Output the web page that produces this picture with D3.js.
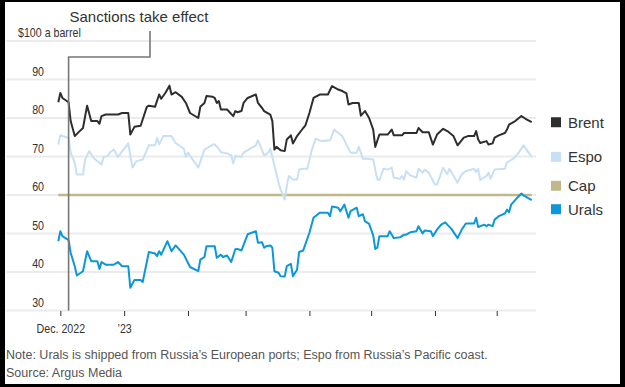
<!DOCTYPE html>
<html>
<head>
<meta charset="utf-8">
<script src="https://cdn.jsdelivr.net/npm/d3@7"></script>
<style>
  body { margin: 0; background: #000; }
  svg { display: block; }
  .sans { font-family: "Liberation Sans", Arial, sans-serif; }
</style>
</head>
<body>
<svg id="chart" width="625" height="387"></svg>
<script>
// Russian crude vs. Brent, Nov 2022 - Jul 2023 ($ a barrel)
const brent = [
  ["2022-11-30", 84.1], ["2022-12-01", 86.5], ["2022-12-02", 85.2], ["2022-12-05", 84.1],
  ["2022-12-06", 79.2], ["2022-12-08", 75.3], ["2022-12-10", 76.4], ["2022-12-12", 77.4],
  ["2022-12-14", 83.2], ["2022-12-16", 79.2], ["2022-12-19", 79.2], ["2022-12-20", 78.5],
  ["2022-12-21", 80.5], ["2022-12-23", 80.9], ["2022-12-29", 80.9], ["2022-12-31", 81.3],
  ["2023-01-03", 81.3], ["2023-01-04", 75.7], ["2023-01-06", 77.7], ["2023-01-09", 78.0],
  ["2023-01-10", 79.6], ["2023-01-12", 82.9], ["2023-01-13", 83.2], ["2023-01-16", 82.9],
  ["2023-01-18", 86.1], ["2023-01-19", 85.0], ["2023-01-21", 86.5], ["2023-01-23", 88.4],
  ["2023-01-24", 86.1], ["2023-01-26", 86.7], ["2023-01-29", 85.5], ["2023-01-31", 83.9],
  ["2023-02-02", 81.3], ["2023-02-06", 80.0], ["2023-02-07", 82.9], ["2023-02-09", 83.9],
  ["2023-02-10", 85.7], ["2023-02-13", 85.5], ["2023-02-14", 85.2], ["2023-02-15", 83.9],
  ["2023-02-16", 84.4], ["2023-02-17", 82.2], ["2023-02-20", 82.2], ["2023-02-23", 80.5],
  ["2023-02-24", 81.8], ["2023-02-25", 81.5], ["2023-02-27", 81.8], ["2023-02-28", 83.9],
  ["2023-03-02", 85.2], ["2023-03-06", 86.1], ["2023-03-07", 83.9], ["2023-03-09", 82.6],
  ["2023-03-10", 81.8], ["2023-03-13", 80.9], ["2023-03-14", 79.2], ["2023-03-15", 71.8],
  ["2023-03-16", 72.5], ["2023-03-18", 71.6], ["2023-03-20", 71.4], ["2023-03-21", 74.4],
  ["2023-03-23", 75.5], ["2023-03-24", 73.4], ["2023-03-26", 75.3], ["2023-03-29", 77.4],
  ["2023-03-30", 78.0], ["2023-04-01", 81.3], ["2023-04-03", 85.2], ["2023-04-06", 86.1],
  ["2023-04-10", 86.1], ["2023-04-12", 88.3], ["2023-04-15", 87.4], ["2023-04-17", 87.0],
  ["2023-04-19", 86.4], ["2023-04-20", 83.5], ["2023-04-22", 83.9], ["2023-04-25", 83.9],
  ["2023-04-26", 80.6], ["2023-04-28", 81.8], ["2023-04-30", 80.0], ["2023-05-02", 77.0],
  ["2023-05-03", 72.5], ["2023-05-05", 75.7], ["2023-05-09", 75.7], ["2023-05-11", 77.0],
  ["2023-05-12", 75.5], ["2023-05-16", 75.5], ["2023-05-17", 76.1], ["2023-05-23", 76.1],
  ["2023-05-24", 77.4], ["2023-05-26", 76.3], ["2023-05-29", 76.3], ["2023-05-31", 73.1],
  ["2023-06-02", 75.7], ["2023-06-05", 77.2], ["2023-06-07", 76.6], ["2023-06-10", 75.3],
  ["2023-06-12", 72.9], ["2023-06-15", 74.9], ["2023-06-17", 75.3], ["2023-06-20", 75.3],
  ["2023-06-21", 76.6], ["2023-06-22", 74.4], ["2023-06-23", 73.5], ["2023-06-26", 74.0],
  ["2023-06-27", 73.1], ["2023-06-29", 73.4], ["2023-06-30", 74.9], ["2023-07-02", 75.5],
  ["2023-07-05", 76.1], ["2023-07-06", 77.0], ["2023-07-07", 78.3], ["2023-07-10", 79.2],
  ["2023-07-13", 80.5], ["2023-07-15", 79.8], ["2023-07-18", 78.9]
];

const espo = [
  ["2022-11-30", 73.1], ["2022-12-01", 75.5], ["2022-12-05", 74.8], ["2022-12-06", 71.0],
  ["2022-12-08", 68.4], ["2022-12-09", 65.3], ["2022-12-12", 65.3], ["2022-12-13", 69.2],
  ["2022-12-15", 71.4], ["2022-12-17", 69.7], ["2022-12-21", 67.9], ["2022-12-22", 69.9],
  ["2022-12-24", 70.1], ["2022-12-25", 71.0], ["2022-12-27", 71.8], ["2022-12-29", 69.9],
  ["2023-01-03", 73.4], ["2023-01-05", 67.1], ["2023-01-07", 68.8], ["2023-01-10", 69.2],
  ["2023-01-13", 72.9], ["2023-01-16", 72.9], ["2023-01-17", 74.8], ["2023-01-18", 73.1],
  ["2023-01-20", 75.3], ["2023-01-24", 75.3], ["2023-01-26", 73.5], ["2023-01-30", 72.0],
  ["2023-01-31", 69.9], ["2023-02-01", 71.0], ["2023-02-06", 67.1], ["2023-02-09", 71.8],
  ["2023-02-13", 73.1], ["2023-02-14", 73.1], ["2023-02-16", 72.0], ["2023-02-17", 71.1],
  ["2023-02-20", 70.8], ["2023-02-22", 70.3], ["2023-02-23", 68.2], ["2023-02-24", 70.1],
  ["2023-02-27", 69.9], ["2023-02-28", 71.0], ["2023-03-03", 72.0], ["2023-03-06", 72.9],
  ["2023-03-07", 74.2], ["2023-03-09", 71.6], ["2023-03-10", 70.3], ["2023-03-12", 71.0],
  ["2023-03-13", 72.0], ["2023-03-14", 69.9], ["2023-03-17", 63.2], ["2023-03-18", 61.4],
  ["2023-03-20", 58.8], ["2023-03-21", 62.3], ["2023-03-22", 64.9], ["2023-03-24", 64.0],
  ["2023-03-26", 64.0], ["2023-03-27", 66.6], ["2023-03-29", 66.8], ["2023-03-31", 66.8],
  ["2023-04-02", 71.4], ["2023-04-04", 74.6], ["2023-04-07", 74.0], ["2023-04-11", 74.2],
  ["2023-04-13", 77.0], ["2023-04-15", 76.1], ["2023-04-17", 75.3], ["2023-04-19", 73.1],
  ["2023-04-21", 71.0], ["2023-04-24", 71.0], ["2023-04-25", 72.5], ["2023-04-27", 69.4],
  ["2023-04-29", 69.4], ["2023-05-02", 69.2], ["2023-05-04", 64.0], ["2023-05-05", 63.9],
  ["2023-05-07", 66.8], ["2023-05-09", 66.6], ["2023-05-11", 67.1], ["2023-05-12", 64.5],
  ["2023-05-15", 64.2], ["2023-05-16", 64.9], ["2023-05-17", 64.0], ["2023-05-18", 66.2],
  ["2023-05-20", 65.1], ["2023-05-23", 64.5], ["2023-05-24", 66.8], ["2023-05-26", 65.8],
  ["2023-05-27", 66.6], ["2023-05-29", 65.8], ["2023-06-01", 62.7], ["2023-06-02", 62.7],
  ["2023-06-05", 67.1], ["2023-06-07", 65.4], ["2023-06-08", 66.8], ["2023-06-12", 63.2],
  ["2023-06-14", 65.4], ["2023-06-16", 66.2], ["2023-06-18", 66.5], ["2023-06-20", 66.8],
  ["2023-06-21", 66.0], ["2023-06-22", 66.8], ["2023-06-23", 63.9], ["2023-06-26", 64.9],
  ["2023-06-27", 65.8], ["2023-06-28", 64.2], ["2023-06-30", 66.6], ["2023-07-05", 66.8],
  ["2023-07-06", 68.5], ["2023-07-09", 69.4], ["2023-07-11", 70.5], ["2023-07-14", 72.9],
  ["2023-07-18", 69.9]
];

const urals = [
  ["2022-11-30", 48.0], ["2022-12-01", 50.6], ["2022-12-02", 49.3], ["2022-12-05", 48.3],
  ["2022-12-06", 45.0], ["2022-12-08", 41.5], ["2022-12-09", 39.1], ["2022-12-12", 40.2],
  ["2022-12-14", 45.4], ["2022-12-16", 42.8], ["2022-12-19", 42.8], ["2022-12-20", 40.8],
  ["2022-12-21", 42.6], ["2022-12-23", 41.9], ["2022-12-27", 41.9], ["2022-12-29", 42.6],
  ["2022-12-31", 41.5], ["2023-01-03", 41.5], ["2023-01-04", 35.9], ["2023-01-06", 37.9],
  ["2023-01-09", 37.9], ["2023-01-10", 37.4], ["2023-01-13", 45.2], ["2023-01-16", 44.8],
  ["2023-01-17", 44.1], ["2023-01-18", 45.4], ["2023-01-19", 44.5], ["2023-01-22", 48.0],
  ["2023-01-24", 45.4], ["2023-01-26", 46.9], ["2023-01-30", 44.5], ["2023-02-02", 41.3],
  ["2023-02-06", 40.2], ["2023-02-07", 43.2], ["2023-02-09", 43.9], ["2023-02-10", 46.7],
  ["2023-02-14", 46.7], ["2023-02-15", 43.7], ["2023-02-17", 44.5], ["2023-02-18", 43.9],
  ["2023-02-20", 44.3], ["2023-02-22", 42.6], ["2023-02-24", 45.9], ["2023-02-25", 46.0],
  ["2023-02-27", 45.6], ["2023-03-02", 49.8], ["2023-03-06", 50.6], ["2023-03-07", 47.6],
  ["2023-03-09", 47.7], ["2023-03-10", 46.3], ["2023-03-11", 46.7], ["2023-03-13", 46.9],
  ["2023-03-14", 46.3], ["2023-03-15", 40.2], ["2023-03-17", 39.8], ["2023-03-18", 38.9],
  ["2023-03-20", 38.8], ["2023-03-21", 41.5], ["2023-03-23", 42.1], ["2023-03-24", 38.9],
  ["2023-03-26", 40.6], ["2023-03-27", 45.2], ["2023-03-29", 45.6], ["2023-04-01", 50.2],
  ["2023-04-03", 54.1], ["2023-04-06", 55.4], ["2023-04-10", 55.4], ["2023-04-11", 54.5],
  ["2023-04-12", 57.0], ["2023-04-15", 56.7], ["2023-04-16", 55.8], ["2023-04-18", 57.5],
  ["2023-04-20", 54.1], ["2023-04-21", 55.8], ["2023-04-24", 56.7], ["2023-04-25", 54.5],
  ["2023-04-27", 55.0], ["2023-04-28", 53.2], ["2023-04-30", 52.5], ["2023-05-02", 49.5],
  ["2023-05-03", 46.0], ["2023-05-04", 46.3], ["2023-05-05", 49.3], ["2023-05-09", 49.3],
  ["2023-05-10", 50.6], ["2023-05-12", 48.8], ["2023-05-15", 49.0], ["2023-05-17", 49.7],
  ["2023-05-18", 49.7], ["2023-05-20", 50.3], ["2023-05-23", 50.6], ["2023-05-24", 51.9],
  ["2023-05-26", 50.0], ["2023-05-27", 50.8], ["2023-05-30", 50.6], ["2023-05-31", 49.3],
  ["2023-06-02", 51.0], ["2023-06-04", 52.3], ["2023-06-06", 52.9], ["2023-06-07", 52.3],
  ["2023-06-09", 51.2], ["2023-06-12", 48.8], ["2023-06-14", 51.0], ["2023-06-16", 52.6],
  ["2023-06-20", 52.6], ["2023-06-21", 54.1], ["2023-06-22", 51.7], ["2023-06-25", 52.3],
  ["2023-06-26", 51.9], ["2023-06-27", 52.3], ["2023-06-29", 51.9], ["2023-06-30", 53.6],
  ["2023-07-02", 54.5], ["2023-07-05", 55.2], ["2023-07-06", 56.2], ["2023-07-07", 55.5],
  ["2023-07-08", 57.5], ["2023-07-09", 58.1], ["2023-07-11", 59.3], ["2023-07-13", 60.4],
  ["2023-07-14", 59.9], ["2023-07-18", 58.7]
];

const cap = [["2022-11-30", 60], ["2023-07-18", 60]];

const seriesNames = ["Cap", "Espo", "Brent", "Urals"];
const legendOrder = ["Brent", "Espo", "Cap", "Urals"];
const yTicks = [30, 40, 50, 60, 70, 80, 90, 100];
const yTickLabels = ["30", "40", "50", "60", "70", "80", "90", "$100 a barrel"];
const xTickLabels = ["Dec. 2022", "\u201923", "", "", "", "", "", ""];
const sanctionsDate = "2022-12-05";
const annotationText = "Sanctions take effect";
const noteText = "Note: Urals is shipped from Russia\u2019s European ports; Espo from Russia\u2019s Pacific coast.";
const sourceText = "Source: Argus Media";

// styles
const colors = { Brent: "#2e2e2e", Espo: "#c8e0f4", Cap: "#c0b88a", Urals: "#0b97d9" };
const widths = { Brent: 2, Espo: 2, Cap: 2.5, Urals: 2 };
const squeeze = 0.82; // no narrow face installed, so tick text is squeezed

const parse = d3.timeParse("%Y-%m-%d");
const seriesData = {
  Brent: brent.map(d => ({ date: parse(d[0]), value: d[1] })),
  Espo: espo.map(d => ({ date: parse(d[0]), value: d[1] })),
  Cap: cap.map(d => ({ date: parse(d[0]), value: d[1] })),
  Urals: urals.map(d => ({ date: parse(d[0]), value: d[1] }))
};

const W = 625, H = 387;
const svg = d3.select("#chart");

// black frame around a white card
svg.append("rect").attr("width", W).attr("height", H).attr("fill", "#000");
svg.append("rect").attr("x", 5).attr("y", 2).attr("width", W - 10).attr("height", H - 5).attr("fill", "#fff");

const allDates = brent.map(d => parse(d[0]));
const x = d3.scaleTime()
  .domain(d3.extent(allDates))
  .range([58.3, 531.7]);

const y = d3.scaleLinear()
  .domain([30, 100])
  .range([310.5, 41]);

const gridLeft = 6, gridRight = 536;

// gridlines
svg.append("g")
  .selectAll("line")
  .data(yTicks)
  .join("line")
  .attr("x1", gridLeft)
  .attr("x2", gridRight)
  .attr("y1", d => y(d))
  .attr("y2", d => y(d))
  .attr("stroke", "#ebebeb")
  .attr("stroke-width", 2);

// y labels sit just above their gridline
svg.append("g")
  .selectAll("g")
  .data(yTicks)
  .join("g")
  .attr("transform", (d, i) => `translate(${i === yTicks.length - 1 ? 18 : 44},${y(d) - 4}) scale(${squeeze},1)`)
  .append("text")
  .attr("class", "sans")
  .attr("text-anchor", (d, i) => i === yTicks.length - 1 ? "start" : "end")
  .attr("font-size", 13)
  .attr("fill", "#333")
  .text((d, i) => yTickLabels[i]);

// x axis: month ticks
const xAxis = d3.axisBottom(x)
  .ticks(d3.timeMonth.every(1))
  .tickSize(5)
  .tickPadding(8)
  .tickFormat((d, i) => xTickLabels[i] || "");

const gx = svg.append("g")
  .attr("transform", `translate(0,${y(30) + 0.5})`)
  .call(xAxis);
gx.select(".domain").remove();
gx.selectAll(".tick line").attr("stroke", "#333");
gx.selectAll(".tick text")
  .attr("class", "sans")
  .attr("font-family", null)
  .attr("font-size", 13)
  .attr("fill", "#333")
  .attr("transform", `scale(${squeeze},1)`);

// lines
const line = d3.line()
  .x(d => x(d.date))
  .y(d => y(d.value));

svg.append("g")
  .selectAll("path")
  .data(seriesNames)
  .join("path")
  .attr("d", name => line(seriesData[name]))
  .attr("fill", "none")
  .attr("stroke", name => colors[name])
  .attr("stroke-width", name => widths[name])
  .attr("stroke-linejoin", "round");

// sanctions annotation
const sx = x(parse(sanctionsDate));
svg.append("path")
  .attr("d", `M${sx},${y(30)} V57 H150 V31`)
  .attr("fill", "none")
  .attr("stroke", "#777")
  .attr("stroke-width", 1.6);

svg.append("text")
  .attr("class", "sans")
  .attr("x", 139)
  .attr("y", 22)
  .attr("text-anchor", "middle")
  .attr("font-size", 15)
  .attr("fill", "#333")
  .text(annotationText);

// legend at line ends, nudged apart where they crowd
const spacing = 23.4;
const legendItems = legendOrder.map(name => {
  const s = seriesData[name];
  return { name, ty: y(s[s.length - 1].value) };
});
const sorted = legendItems.slice().sort((a, b) => a.ty - b.ty);
for (let k = 0; k < 20; k++) {
  for (let i = 1; i < sorted.length; i++) {
    const a = sorted[i - 1], b = sorted[i];
    const gap = b.ty - a.ty;
    if (gap < spacing) {
      const push = (spacing - gap) / 2;
      a.ty -= push;
      b.ty += push;
    }
  }
}

const legend = svg.append("g")
  .selectAll("g")
  .data(legendItems)
  .join("g")
  .attr("transform", d => `translate(551,${d.ty})`);

legend.append("rect")
  .attr("x", 0)
  .attr("y", -5)
  .attr("width", 10)
  .attr("height", 10)
  .attr("fill", d => colors[d.name]);

legend.append("text")
  .attr("class", "sans")
  .attr("x", 17)
  .attr("y", 5.5)
  .attr("font-size", 15)
  .attr("fill", "#333")
  .text(d => d.name);

// footnotes
svg.append("text")
  .attr("class", "sans")
  .attr("x", 6)
  .attr("y", 359)
  .attr("font-size", 12.5)
  .attr("fill", "#555")
  .text(noteText);

svg.append("text")
  .attr("class", "sans")
  .attr("x", 6)
  .attr("y", 376.5)
  .attr("font-size", 12.5)
  .attr("fill", "#555")
  .text(sourceText);
</script>
</body>
</html>
